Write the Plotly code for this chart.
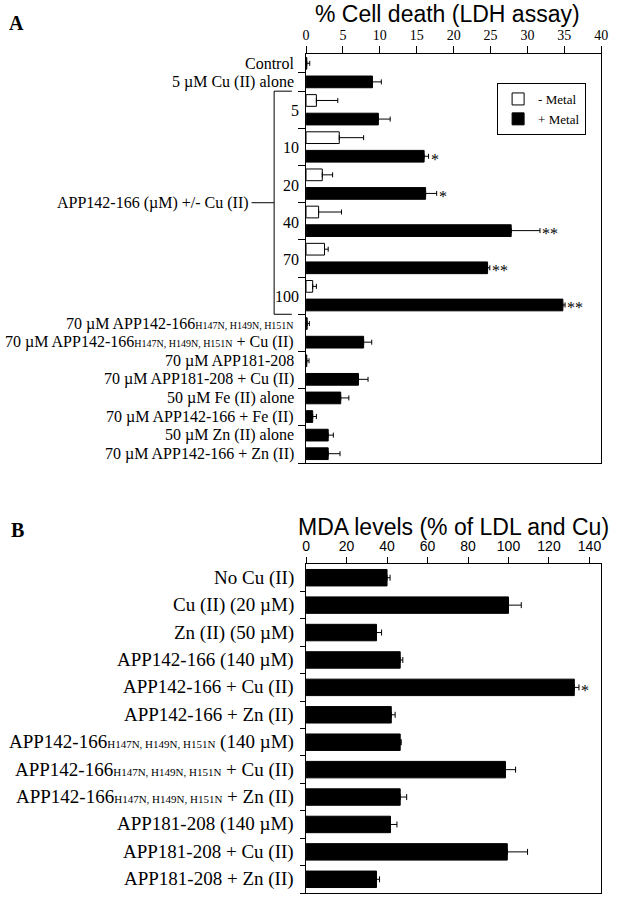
import plotly.graph_objects as go

SERIF = "Liberation Serif"
SANS = "Liberation Sans"

# ---------------- panel A : % cell death (LDH assay) ----------------
top_labels = ["Control", "5 µM Cu (II) alone"]
top_vals = [0.1, 9.0]
top_err = [0.4, 1.2]

conc = ["5", "10", "20", "40", "70", "100"]
minus_vals = [1.4, 4.5, 2.2, 1.7, 2.5, 0.9]
minus_err = [2.9, 3.3, 1.4, 3.1, 0.5, 0.5]
plus_vals = [9.8, 16.0, 16.2, 27.8, 24.6, 34.8]
plus_err = [1.6, 0.6, 1.5, 3.9, 0.3, 0.3]
plus_sig = ["", "*", "*", "**", "**", "**"]

sub_a = "<span style='font-size:10px'>H147N, H149N, H151N</span>"
low_labels = [
    "70 µM APP142-166" + sub_a,
    "70 µM APP142-166" + sub_a + " + Cu (II)",
    "70 µM APP181-208",
    "70 µM APP181-208 + Cu (II)",
    "50 µM Fe (II) alone",
    "70 µM APP142-166 + Fe (II)",
    "50 µM Zn (II) alone",
    "70 µM APP142-166 + Zn (II)",
]
low_vals = [0.15, 7.8, 0.1, 7.1, 4.7, 0.9, 3.0, 3.0]
low_err = [0.3, 1.1, 0.3, 1.3, 1.1, 0.5, 0.7, 1.6]

group_label = "APP142-166 (µM) +/- Cu (II)"

# ---------------- panel B : MDA levels ----------------
sub_b = "<span style='font-size:11px'>H147N, H149N, H151N</span>"
labels_b = [
    "No Cu (II)",
    "Cu (II) (20 µM)",
    "Zn (II) (50 µM)",
    "APP142-166 (140 µM)",
    "APP142-166 + Cu (II)",
    "APP142-166 + Zn (II)",
    "APP142-166" + sub_b + " (140 µM)",
    "APP142-166" + sub_b + " + Cu (II)",
    "APP142-166" + sub_b + " + Zn (II)",
    "APP181-208 (140 µM)",
    "APP181-208 + Cu (II)",
    "APP181-208 + Zn (II)",
]
vals_b = [40.0, 100.0, 34.8, 46.5, 132.5, 42.1, 46.5, 98.5, 46.5, 41.7, 99.4, 34.8]
err_b = [1.5, 6.3, 2.5, 1.3, 2.3, 1.9, 0.5, 5.0, 3.2, 3.2, 10.0, 1.5]
sig_b = ["", "", "", "", "*", "", "", "", "", "", "", ""]

# row positions
rows_top = [0, 1]
rows_minus = [2 + 2 * i for i in range(len(conc))]
rows_plus = [3 + 2 * i for i in range(len(conc))]
rows_low = [14 + i for i in range(len(low_labels))]
rows_b = list(range(len(labels_b)))

black_x = top_vals + plus_vals + low_vals
black_y = rows_top + rows_plus + rows_low
black_err = top_err + plus_err + low_err

fig = go.Figure()

fig.add_trace(go.Bar(
    x=minus_vals, y=rows_minus, orientation="h", width=0.63,
    name="- Metal",
    marker=dict(color="white", line=dict(color="black", width=1)),
    error_x=dict(type="data", array=minus_err, arrayminus=[0] * len(minus_err),
                 symmetric=False, color="black", thickness=1, width=2.5),
    xaxis="x", yaxis="y",
))
fig.add_trace(go.Bar(
    x=black_x, y=black_y, orientation="h", width=0.63,
    name="+ Metal",
    marker=dict(color="black", line=dict(color="black", width=1)),
    error_x=dict(type="data", array=black_err, arrayminus=[0] * len(black_err),
                 symmetric=False, color="black", thickness=1, width=2.5),
    xaxis="x", yaxis="y",
))
fig.add_trace(go.Bar(
    x=vals_b, y=rows_b, orientation="h", width=0.6,
    showlegend=False,
    marker=dict(color="black", line=dict(color="black", width=1)),
    error_x=dict(type="data", array=err_b, arrayminus=[0] * len(err_b),
                 symmetric=False, color="black", thickness=1, width=3),
    xaxis="x2", yaxis="y2",
))

ann = []
# row labels A
for lab, r in zip(top_labels + low_labels, rows_top + rows_low):
    ann.append(dict(x=0.4783, xref="paper", y=r, yref="y", text=lab, showarrow=False,
                    xanchor="right", yanchor="middle",
                    font=dict(family=SERIF, size=16, color="black")))
for c, r in zip(conc, rows_minus):
    ann.append(dict(x=0.4863, xref="paper", y=r + 0.55, yref="y", text=c, showarrow=False,
                    xanchor="right", yanchor="middle",
                    font=dict(family=SERIF, size=16, color="black")))
ann.append(dict(x=0.4042, xref="paper", y=7.5, yref="y", text=group_label, showarrow=False,
                xanchor="right", yanchor="middle",
                font=dict(family=SERIF, size=16, color="black")))
# significance stars A
for v, e, s, r in zip(plus_vals, plus_err, plus_sig, rows_plus):
    if s:
        ann.append(dict(x=v + e, xref="x", y=r, yref="y", text=s, showarrow=False,
                        xanchor="left", yanchor="middle", yshift=-3,
                        font=dict(family=SERIF, size=16, color="black")))
# row labels B
for lab, r in zip(labels_b, rows_b):
    ann.append(dict(x=0.4783, xref="paper", y=r, yref="y2", text=lab, showarrow=False,
                    xanchor="right", yanchor="middle",
                    font=dict(family=SERIF, size=19, color="black")))
for v, e, s, r in zip(vals_b, err_b, sig_b, rows_b):
    if s:
        ann.append(dict(x=v + e, xref="x2", y=r, yref="y2", text=s, showarrow=False,
                        xanchor="left", yanchor="middle", yshift=-3,
                        font=dict(family=SERIF, size=16, color="black")))
# titles and panel letters
ann.append(dict(x=451 / 621, xref="paper", y=1 - 14 / 899, yref="paper",
                text="% Cell death (LDH assay)", showarrow=False,
                xanchor="center", yanchor="middle",
                font=dict(family=SANS, size=23, color="black")))
ann.append(dict(x=458 / 621, xref="paper", y=1 - 527 / 899, yref="paper",
                text="MDA levels (% of LDL and Cu)", showarrow=False,
                xanchor="center", yanchor="middle",
                font=dict(family=SANS, size=23, color="black")))
ann.append(dict(x=13 / 621, xref="paper", y=1 - 23 / 899, yref="paper", text="<b>A</b>",
                showarrow=False, xanchor="center", yanchor="middle",
                font=dict(family=SERIF, size=20, color="black")))
ann.append(dict(x=14 / 621, xref="paper", y=1 - 530 / 899, yref="paper", text="<b>B</b>",
                showarrow=False, xanchor="center", yanchor="middle",
                font=dict(family=SERIF, size=20, color="black")))

# bracket for the APP142-166 dose group
bx = 275 / 621
line = dict(color="black", width=1)
shapes = [
    dict(type="line", xref="paper", yref="y", x0=bx, x1=bx, y0=1.5, y1=13.5, line=line),
    dict(type="line", xref="paper", yref="y", x0=bx, x1=293 / 621, y0=1.5, y1=1.5, line=line),
    dict(type="line", xref="paper", yref="y", x0=bx, x1=293 / 621, y0=13.5, y1=13.5, line=line),
    dict(type="line", xref="paper", yref="y", x0=252 / 621, x1=bx, y0=7.5, y1=7.5, line=line),
]

xdom = [307.5 / 621, 608 / 621]
axis_common = dict(showline=True, mirror=True, linecolor="black", linewidth=1,
                   showgrid=False, zeroline=False, ticks="outside", tickcolor="black")

fig.update_layout(
    width=621, height=899,
    margin=dict(l=0, r=0, t=0, b=0),
    paper_bgcolor="white", plot_bgcolor="white",
    barmode="overlay",
    annotations=ann,
    shapes=shapes,
    legend=dict(x=502 / 621, y=1 - 83 / 899, xanchor="left", yanchor="top",
                bordercolor="black", borderwidth=1, bgcolor="white",
                font=dict(family=SERIF, size=13, color="black"),
                itemwidth=30, traceorder="normal"),
    xaxis=dict(axis_common, domain=xdom, range=[0, 40], side="top", anchor="y",
               tickvals=list(range(0, 41, 5)), ticklen=7,
               tickfont=dict(family=SERIF, size=14, color="black")),
    yaxis=dict(axis_common, domain=[1 - 463 / 899, 1 - 54 / 899], range=[21.5, -0.5],
               anchor="x", tickvals=[0.5, 1.5, 3.5, 5.5, 7.5, 9.5, 11.5, 13.5, 15.5, 17.5, 19.5, 21.5],
               ticklen=7, showticklabels=False),
    xaxis2=dict(axis_common, domain=xdom, range=[0, 145.8], side="top", anchor="y2",
                tickvals=list(range(0, 141, 20)), ticklen=6,
                tickfont=dict(family=SANS, size=14, color="black")),
    yaxis2=dict(axis_common, domain=[1 - 893 / 899, 1 - 564 / 899], range=[11.5, -0.5],
                anchor="x2", tickvals=[r + 0.5 for r in rows_b], ticklen=5,
                showticklabels=False),
)

# drop the browser's default body margin so the figure sits at the page origin
fig.write_html("out.html", config={"displayModeBar": False},
               post_script="document.body.style.margin = '0';")
